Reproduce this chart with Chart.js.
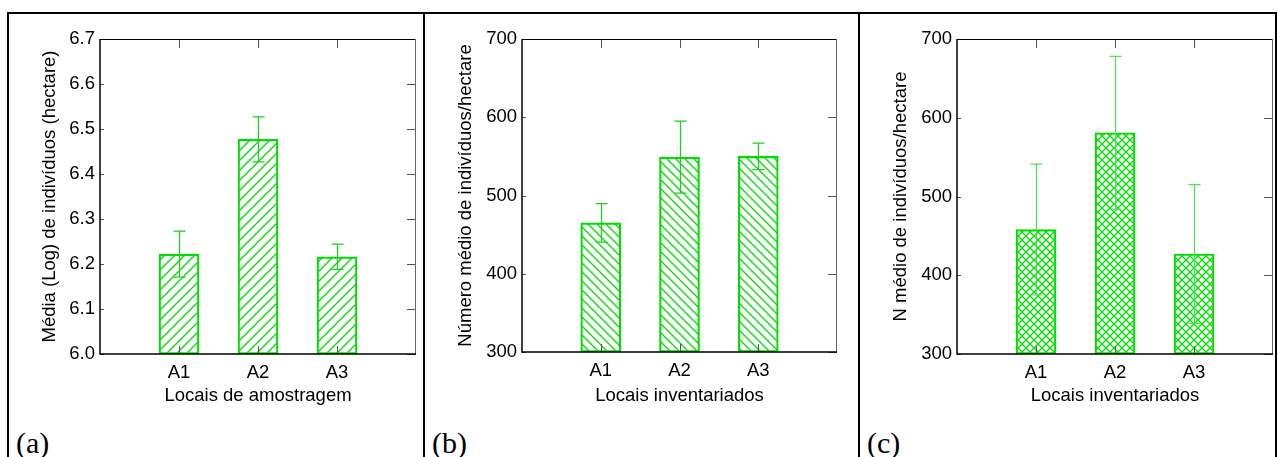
<!DOCTYPE html>
<html>
<head>
<meta charset="utf-8">
<script src="https://cdn.jsdelivr.net/npm/chart.js@4.4.1/dist/chart.umd.min.js"></script>
<style>
    body { margin: 0; background: #fff; width: 1278px; height: 457px; position: relative; overflow: hidden; }
    .rule { position: absolute; background: #000; z-index: 2; }
    .pane { position: absolute; top: 0; }
    .tag { position: absolute; font-family: "Liberation Serif", "Times New Roman", serif; font-size: 30px; color: #000; line-height: 1; }
</style>
</head>
<body>

<div class="rule" style="left:7px; top:12px; width:1270px; height:2px;"></div>
<div class="rule" style="left:7px; top:12px; width:2px; height:445px;"></div>
<div class="rule" style="left:423px; top:12px; width:2px; height:445px;"></div>
<div class="rule" style="left:858px; top:12px; width:2px; height:445px;"></div>
<div class="rule" style="left:1275px; top:12px; width:2px; height:445px;"></div>

<div class="pane" style="left:10px; width:410px; height:420px;"><canvas id="chartA"></canvas></div>
<div class="pane" style="left:427px; width:414px; height:420px;"><canvas id="chartB"></canvas></div>
<div class="pane" style="left:862px; width:413px; height:420px;"><canvas id="chartC"></canvas></div>

<div class="tag" style="left:16px; top:428px;">(a)</div>
<div class="tag" style="left:432px; top:428px;">(b)</div>
<div class="tag" style="left:867px; top:428px;">(c)</div>

<script>
// --- Data ---
const sites = ['A1', 'A2', 'A3'];

const meanLog = [6.222, 6.477, 6.216];
const errLog = [0.051, 0.050, 0.028];
const ticksLog = [6.0, 6.1, 6.2, 6.3, 6.4, 6.5, 6.6, 6.7];

const meanDensity = [465, 549, 550];
const errDensity = [24.5, 46, 17];

const meanN = [458, 581, 427];
const errN = [83, 97, 88];
const ticksDensity = [300, 400, 500, 600, 700];

const GREEN = '#00dd00';
const FONT = '"Liberation Sans", Arial, sans-serif';
const FONT_SIZE = 18.5;

// --- Hatch fills ---
function hatch(kind, size) {
    const c = document.createElement('canvas');
    c.width = size; c.height = size;
    const g = c.getContext('2d');
    g.strokeStyle = GREEN;
    g.lineWidth = 1.3;
    const fwd = () => {
        g.beginPath();
        g.moveTo(-1, size + 1); g.lineTo(size + 1, -1);
        g.moveTo(-1, 1); g.lineTo(1, -1);
        g.moveTo(size - 1, size + 1); g.lineTo(size + 1, size - 1);
        g.stroke();
    };
    const back = () => {
        g.beginPath();
        g.moveTo(-1, -1); g.lineTo(size + 1, size + 1);
        g.moveTo(size - 1, -1); g.lineTo(size + 1, 1);
        g.moveTo(-1, size - 1); g.lineTo(1, size + 1);
        g.stroke();
    };
    if (kind === 'fwd' || kind === 'cross') fwd();
    if (kind === 'back' || kind === 'cross') back();
    return g.createPattern(c, 'repeat');
}

// error bars, drawn over the bars
const errorBars = {
    id: 'errorBars',
    afterDatasetsDraw(chart, args, opts) {
        const { ctx, scales: { x, y } } = chart;
        ctx.save();
        ctx.strokeStyle = opts.color;
        ctx.lineWidth = 1.3;
        opts.means.forEach((m, i) => {
            const px = Math.round(x.getPixelForValue(i + 1)) + 0.5;
            const top = y.getPixelForValue(m + opts.errs[i]);
            const bot = y.getPixelForValue(m - opts.errs[i]);
            ctx.beginPath();
            ctx.moveTo(px, top); ctx.lineTo(px, bot);
            ctx.moveTo(px - 6, top); ctx.lineTo(px + 6, top);
            ctx.moveTo(px - 6, bot); ctx.lineTo(px + 6, bot);
            ctx.stroke();
        });
        ctx.restore();
    }
};

// plot box with inward ticks on all four sides
const plotFrame = {
    id: 'plotFrame',
    afterDraw(chart) {
        const { ctx, chartArea: a, scales: { x, y } } = chart;
        ctx.save();
        ctx.lineWidth = 1;
        ctx.strokeStyle = '#555';
        ctx.beginPath();
        x.ticks.forEach(t => {
            const px = Math.round(x.getPixelForValue(t.value)) + 0.5;
            ctx.moveTo(px, a.top); ctx.lineTo(px, a.top + 9);
            ctx.moveTo(px, a.bottom); ctx.lineTo(px, a.bottom - 8);
        });
        y.ticks.forEach(t => {
            const py = Math.round(y.getPixelForValue(t.value)) + 0.5;
            ctx.moveTo(a.right, py); ctx.lineTo(a.right - 9, py);
            ctx.moveTo(a.left, py); ctx.lineTo(a.left + 4, py);
        });
        ctx.stroke();

        ctx.strokeStyle = '#000';
        ctx.beginPath();
        ctx.moveTo(a.left, a.top + 0.5); ctx.lineTo(a.right, a.top + 0.5);
        ctx.stroke();
        ctx.strokeStyle = '#666';
        ctx.beginPath();
        ctx.moveTo(a.right - 0.5, a.top); ctx.lineTo(a.right - 0.5, a.bottom);
        ctx.stroke();
        ctx.strokeStyle = '#000';
        ctx.lineWidth = 1.5;
        ctx.beginPath();
        ctx.moveTo(a.left, a.top); ctx.lineTo(a.left, a.bottom);
        ctx.lineTo(a.right, a.bottom);
        ctx.stroke();
        ctx.restore();
    }
};

function buildChart(id, p) {
    new Chart(document.getElementById(id), {
        type: 'bar',
        data: {
            datasets: [{
                data: sites.map((s, i) => ({ x: i + 1, y: p.means[i] })),
                backgroundColor: hatch(p.fill, p.hatchSize),
                borderColor: GREEN,
                borderWidth: 1.5,
                borderSkipped: false,
                barThickness: 40,
                base: p.yTicks[0]
            }]
        },
        options: {
            responsive: true,
            maintainAspectRatio: false,
            animation: false,
            events: [],
            layout: { padding: { top: 39, right: p.padRight, bottom: 0, left: 0 } },
            plugins: {
                legend: { display: false },
                tooltip: { enabled: false },
                errorBars: { means: p.means, errs: p.errs, color: p.errColor }
            },
            scales: {
                x: {
                    type: 'linear',
                    min: 0, max: 4,
                    offset: false,
                    grid: { display: false, drawTicks: false },
                    border: { display: false },
                    afterBuildTicks: s => { s.ticks = sites.map((c, i) => ({ value: i + 1 })); },
                    afterFit: s => { s.height = p.xAxisH; },
                    ticks: {
                        color: '#000',
                        padding: 8,
                        font: { family: FONT, size: FONT_SIZE },
                        callback: v => sites[v - 1] || ''
                    },
                    title: {
                        display: true,
                        text: p.xTitle,
                        color: '#000',
                        font: { family: FONT, size: FONT_SIZE },
                        padding: { top: 0, bottom: p.xTitlePad }
                    }
                },
                y: {
                    min: p.yTicks[0],
                    max: p.yTicks[p.yTicks.length - 1],
                    grid: { display: false, drawTicks: false },
                    border: { display: false },
                    afterBuildTicks: s => { s.ticks = p.yTicks.map(v => ({ value: v })); },
                    afterFit: s => { s.width = p.yAxisW; },
                    ticks: {
                        color: '#000',
                        padding: 5,
                        font: { family: FONT, size: FONT_SIZE },
                        callback: v => p.yDigits ? Number(v).toFixed(p.yDigits) : String(v)
                    },
                    title: {
                        display: true,
                        text: p.yTitle,
                        color: '#000',
                        font: { family: FONT, size: FONT_SIZE },
                        padding: { top: p.yTitlePad, bottom: 0 }
                    }
                }
            }
        },
        plugins: [errorBars, plotFrame]
    });
}

buildChart('chartA', {
    means: meanLog, errs: errLog, yTicks: ticksLog, yDigits: 1,
    fill: 'fwd', hatchSize: 10, errColor: '#22cc22',
    yTitle: 'Média (Log) de indivíduos (hectare)', xTitle: 'Locais de amostragem',
    yAxisW: 90, yTitlePad: 29, padRight: 4, xAxisH: 66, xTitlePad: 13
});

buildChart('chartB', {
    means: meanDensity, errs: errDensity, yTicks: ticksDensity, yDigits: 0,
    fill: 'back', hatchSize: 9, errColor: '#22cc22',
    yTitle: 'Número médio de indivíduos/hectare', xTitle: 'Locais inventariados',
    yAxisW: 95, yTitlePad: 28, padRight: 4, xAxisH: 68, xTitlePad: 13
});

buildChart('chartC', {
    means: meanN, errs: errN, yTicks: ticksDensity, yDigits: 0,
    fill: 'cross', hatchSize: 8, errColor: '#55dd55',
    yTitle: 'N médio de indivíduos/hectare', xTitle: 'Locais inventariados',
    yAxisW: 95, yTitlePad: 28, padRight: 2, xAxisH: 66, xTitlePad: 13
});
</script>
</body>
</html>
